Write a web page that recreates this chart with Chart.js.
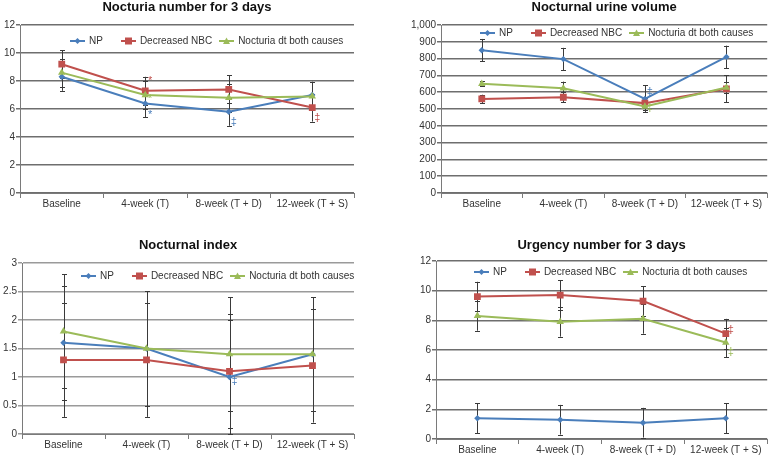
<!DOCTYPE html>
<html><head><meta charset="utf-8">
<script src="https://cdn.jsdelivr.net/npm/chart.js@4"></script>
<style>
body{margin:0;background:#fff;width:772px;height:456px;overflow:hidden;position:relative}
canvas{position:absolute}
</style></head>
<body>
<canvas id="c1" width="386" height="228" style="left:0;top:0"></canvas>
<canvas id="c2" width="386" height="228" style="left:386px;top:0"></canvas>
<canvas id="c3" width="386" height="228" style="left:0;top:228px"></canvas>
<canvas id="c4" width="386" height="228" style="left:386px;top:228px"></canvas>
<script>
// ---------- DATA ----------
const categories = ['Baseline', '4-week (T)', '8-week (T + D)', '12-week (T + S)'];
const seriesNames = ['NP', 'Decreased NBC', 'Nocturia dt both causes'];

// Panel 1: Nocturia number for 3 days
const nocturiaTitle = 'Nocturia number for 3 days';
const nocturiaNP = [8.3, 6.4, 5.8, 7.0];
const nocturiaNBC = [9.2, 7.3, 7.4, 6.1];
const nocturiaBoth = [8.6, 7.0, 6.8, 6.9];
const nocturiaErrNP = [1.0, 1.0, 1.0, 0.95];
const nocturiaErrNBC = [1.0, 1.0, 1.0, 1.0];
const nocturiaErrBoth = [1.0, 1.0, 1.0, 1.0];
const nocturiaTicks = ['0', '2', '4', '6', '8', '10', '12'];
const nocturiaMarks = [
  {series: 1, index: 1, value: 8.0, text: '*'},
  {series: 2, index: 1, value: 6.7, text: '*'},
  {series: 0, index: 1, value: 5.55, text: '*'},
  {series: 0, index: 2, value: 5.1, text: '‡'},
  {series: 1, index: 3, value: 5.35, text: '‡'}
];

// Panel 2: Nocturnal urine volume
const volumeTitle = 'Nocturnal urine volume';
const volumeNP = [850, 797, 560, 810];
const volumeNBC = [560, 570, 535, 620];
const volumeBoth = [650, 623, 515, 628];
const volumeErrNP = [67, 67, 80, 67];
const volumeErrNBC = [25, 30, 30, 80];
const volumeErrBoth = [15, 40, 20, 35];
const volumeTicks = ['0', '100', '200', '300', '400', '500', '600', '700', '800', '900', '1,000'];
const volumeMarks = [
  {series: 0, index: 2, value: 600, text: '‡'},
  {series: 2, index: 2, value: 505, text: '‡'}
];

// Panel 3: Nocturnal index
const indexTitle = 'Nocturnal index';
const indexNP = [1.6, 1.5, 1.0, 1.4];
const indexNBC = [1.3, 1.3, 1.1, 1.2];
const indexBoth = [1.8, 1.5, 1.4, 1.4];
const indexErrNP = [1.0, 1.0, 1.0, 1.0];
const indexErrNBC = [1.0, 1.0, 1.0, 1.0];
const indexErrBoth = [1.0, 1.0, 1.0, 1.0];
const indexTicks = ['0', '0.5', '1', '1.5', '2', '2.5', '3'];
const indexMarks = [
  {series: 0, index: 2, value: 0.93, text: '‡'}
];

// Panel 4: Urgency number for 3 days
const urgencyTitle = 'Urgency number for 3 days';
const urgencyNP = [1.4, 1.3, 1.1, 1.4];
const urgencyNBC = [9.6, 9.7, 9.3, 7.1];
const urgencyBoth = [8.3, 7.9, 8.1, 6.5];
const urgencyErrNP = [1.0, 1.0, 1.0, 1.0];
const urgencyErrNBC = [1.0, 1.0, 1.0, 1.0];
const urgencyErrBoth = [1.0, 1.0, 1.0, 1.0];
const urgencyTicks = ['0', '2', '4', '6', '8', '10', '12'];
const urgencyMarks = [
  {series: 1, index: 3, value: 7.35, text: '‡'},
  {series: 2, index: 3, value: 5.85, text: '‡'}
];

// ---------- STYLE ----------
const COLORS = ['#4a7ebb', '#c0504d', '#9bbb59'];
const POINT_STYLES = ['rectRot', 'rect', 'triangle'];
const POINT_RADII = [3.2, 4.8, 4.3];
const FONT = '"Liberation Sans", Arial, Helvetica, sans-serif';
Chart.defaults.font.family = FONT;
Chart.defaults.font.size = 10;
Chart.defaults.color = '#333';

function legendIcon(i) {
  const c = document.createElement('canvas');
  c.width = 15; c.height = 10;
  const ctx = c.getContext('2d');
  ctx.strokeStyle = COLORS[i]; ctx.fillStyle = COLORS[i]; ctx.lineWidth = 2;
  ctx.beginPath(); ctx.moveTo(0, 5); ctx.lineTo(15, 5); ctx.stroke();
  ctx.beginPath();
  if (i === 0) { ctx.moveTo(7.5, 2); ctx.lineTo(10.5, 5); ctx.lineTo(7.5, 8); ctx.lineTo(4.5, 5); ctx.closePath(); }
  else if (i === 1) { ctx.rect(4, 1.5, 7, 7); }
  else { ctx.moveTo(7.5, 1.5); ctx.lineTo(11, 8); ctx.lineTo(4, 8); ctx.closePath(); }
  ctx.fill();
  return c;
}
const ICONS = [0, 1, 2].map(legendIcon);

const errorBarPlugin = {
  id: 'errorBars',
  beforeDatasetsDraw(chart, args, opts) {
    const ctx = chart.ctx, ys = chart.scales.y;
    ctx.save();
    ctx.strokeStyle = opts.color; ctx.lineWidth = 1;
    chart.data.datasets.forEach((ds, di) => {
      const meta = chart.getDatasetMeta(di);
      ds.data.forEach((v, i) => {
        const e = ds.errors[i];
        const x = Math.round(meta.data[i].x) + 0.5;
        const y1 = ys.getPixelForValue(v + e), y2 = ys.getPixelForValue(v - e);
        ctx.beginPath();
        ctx.moveTo(x, y1); ctx.lineTo(x, y2);
        ctx.moveTo(x - opts.cap, Math.round(y1) + 0.5); ctx.lineTo(x + opts.cap, Math.round(y1) + 0.5);
        ctx.moveTo(x - opts.cap, Math.round(y2) + 0.5); ctx.lineTo(x + opts.cap, Math.round(y2) + 0.5);
        ctx.stroke();
      });
    });
    ctx.restore();
  }
};

const marksPlugin = {
  id: 'marks',
  afterDatasetsDraw(chart, args, opts) {
    const ctx = chart.ctx, ys = chart.scales.y;
    ctx.save();
    ctx.font = '11px ' + FONT;
    ctx.textAlign = 'center'; ctx.textBaseline = 'middle';
    (opts.items || []).forEach(m => {
      const pt = chart.getDatasetMeta(m.series).data[m.index];
      ctx.fillStyle = COLORS[m.series];
      ctx.fillText(m.text, pt.x + opts.dx, ys.getPixelForValue(m.value));
    });
    ctx.restore();
  }
};

// Horizontal legend drawn inside the plot area
const innerLegendPlugin = {
  id: 'innerLegend',
  afterDraw(chart, args, opts) {
    const ctx = chart.ctx, ca = chart.chartArea;
    let x = ca.left + opts.x;
    const y = ca.top + opts.y;
    ctx.save();
    ctx.font = '10px ' + FONT;
    ctx.textAlign = 'left'; ctx.textBaseline = 'middle'; ctx.fillStyle = '#333';
    chart.data.datasets.forEach((ds, i) => {
      ctx.drawImage(ICONS[i], Math.round(x), Math.round(y - 5));
      x += 15 + 4;
      ctx.fillText(ds.label, x, y);
      x += ctx.measureText(ds.label).width + (opts.gaps[i] || 0);
    });
    ctx.restore();
  }
};

function makePanel(id, p) {
  const sets = [
    [p.np, p.errNP], [p.nbc, p.errNBC], [p.both, p.errBoth]
  ];
  new Chart(document.getElementById(id), {
    type: 'line',
    data: {
      labels: categories,
      datasets: sets.map((s, i) => ({
        label: seriesNames[i], data: s[0], errors: s[1],
        borderColor: COLORS[i], backgroundColor: COLORS[i],
        borderWidth: 2, pointStyle: POINT_STYLES[i], pointRadius: POINT_RADII[i],
        pointBorderWidth: 0, pointBackgroundColor: COLORS[i], tension: 0,
        order: 2 - i
      }))
    },
    options: {
      responsive: false, animation: false, devicePixelRatio: 1,
      events: [],
      layout: {padding: {left: 0, right: p.padRight, top: 0, bottom: 0}},
      plugins: {
        title: {display: true, text: p.title, fullSize: false, color: '#111',
          font: {size: 13, weight: 'bold', family: FONT, lineHeight: 1.2},
          padding: {top: p.titleTop, bottom: p.titleBottom}},
        legend: {display: false},
        tooltip: {enabled: false},
        innerLegend: {x: p.legendX, y: p.legendY, gaps: [18, 7, 0]},
        errorBars: {color: '#3a3a3a', cap: 2.5},
        marks: {items: p.marks, dx: 5}
      },
      scales: {
        x: {
          offset: true,
          grid: {display: true, drawOnChartArea: false, drawTicks: true, tickLength: 5, offset: true, color: '#7a7a7a'},
          border: {color: '#7a7a7a'},
          ticks: {padding: 0, color: '#333', font: {size: 10}, maxRotation: 0, autoSkip: false},
          afterFit: (s) => { s.height = p.xHeight; }
        },
        y: {
          min: p.min, max: p.max,
          ticks: {stepSize: p.step, padding: 1, color: '#333', font: {size: 10},
            callback: (v, i) => p.ticks[i]},
          grid: {color: p.gridColor, lineWidth: 1.5, tickLength: 4},
          border: {color: '#7a7a7a'},
          afterFit: (s) => { s.width = p.yWidth; }
        }
      }
    },
    plugins: [errorBarPlugin, marksPlugin, innerLegendPlugin]
  });
}

makePanel('c1', {title: nocturiaTitle, np: nocturiaNP, nbc: nocturiaNBC, both: nocturiaBoth,
  errNP: nocturiaErrNP, errNBC: nocturiaErrNBC, errBoth: nocturiaErrBoth,
  ticks: nocturiaTicks, marks: nocturiaMarks, min: 0, max: 12, step: 2,
  yWidth: 20, xHeight: 35, padRight: 32, titleTop: 0, titleBottom: 9.4,
  legendX: 50, legendY: 16, gridColor: '#6e6e6e'});
makePanel('c2', {title: volumeTitle, np: volumeNP, nbc: volumeNBC, both: volumeBoth,
  errNP: volumeErrNP, errNBC: volumeErrNBC, errBoth: volumeErrBoth,
  ticks: volumeTicks, marks: volumeMarks, min: 0, max: 1000, step: 100,
  yWidth: 55, xHeight: 35, padRight: 1, titleTop: 0, titleBottom: 9.4,
  legendX: 39, legendY: 8, gridColor: '#6e6e6e'});
makePanel('c3', {title: indexTitle, np: indexNP, nbc: indexNBC, both: indexBoth,
  errNP: indexErrNP, errNBC: indexErrNBC, errBoth: indexErrBoth,
  ticks: indexTicks, marks: indexMarks, min: 0, max: 3, step: 0.5,
  yWidth: 22, xHeight: 22, padRight: 32, titleTop: 9.2, titleBottom: 10.2,
  legendX: 59, legendY: 13, gridColor: '#9a9a9a'});
makePanel('c4', {title: urgencyTitle, np: urgencyNP, nbc: urgencyNBC, both: urgencyBoth,
  errNP: urgencyErrNP, errNBC: urgencyErrNBC, errBoth: urgencyErrBoth,
  ticks: urgencyTicks, marks: urgencyMarks, min: 0, max: 12, step: 2,
  yWidth: 50, xHeight: 17, padRight: 0, titleTop: 9.2, titleBottom: 8.2,
  legendX: 38, legendY: 11, gridColor: '#6e6e6e'});
</script>
</body></html>
